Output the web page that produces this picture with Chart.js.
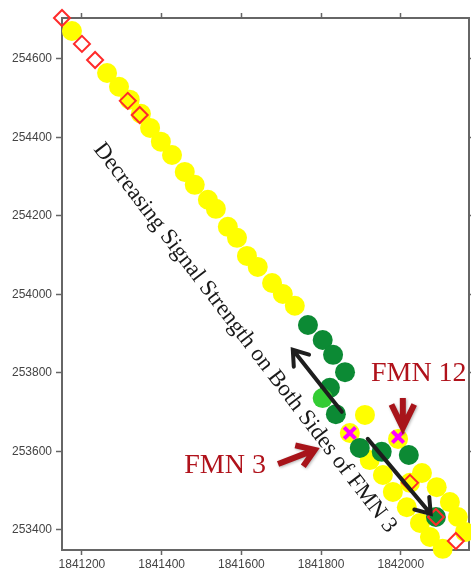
<!DOCTYPE html>
<html>
<head>
<meta charset="utf-8">
<script src="https://cdn.jsdelivr.net/npm/chart.js@4/dist/chart.umd.min.js"></script>
<style>
  html, body { margin: 0; padding: 0; background: #fff; }
  canvas { display: block; }
</style>
</head>
<body>
<canvas id="trackChart" width="471" height="575"></canvas>
<script>
// axis ranges and tick labels
const xTicks = [1841200, 1841400, 1841600, 1841800, 1842000];
const yTicks = [253400, 253600, 253800, 254000, 254200, 254400, 254600];
const xRange = [1841150, 1842171];
const yRange = [253349, 254704];

// yellow readings along the track
const yellowX = [1841175, 1841263, 1841293, 1841320, 1841348, 1841371, 1841398, 1841426, 1841458, 1841483,
                 1841516, 1841536, 1841566, 1841589, 1841614, 1841641, 1841677, 1841704, 1841734,
                 1841910, 1841872, 1841993, 1841922, 1841955, 1841980, 1842015, 1842048, 1842073, 1842105,
                 1842053, 1842090, 1842123, 1842143, 1842161, 1842023];
const yellowY = [254671, 254564, 254529, 254496, 254460, 254424, 254389, 254355, 254312, 254279,
                 254241, 254218, 254172, 254144, 254098, 254070, 254029, 254001, 253971,
                 253693, 253647, 253632, 253578, 253540, 253497, 253458, 253418, 253382, 253352,
                 253545, 253509, 253471, 253433, 253395, 253520];

// green readings
const greenX = [1841767, 1841804, 1841830, 1841860, 1841822, 1841837, 1841897, 1841952, 1842020, 1842088];
const greenY = [253922, 253884, 253846, 253802, 253762, 253695, 253609, 253599, 253591, 253433];
const lightGreenX = [1841804];
const lightGreenY = [253736];

// red diamonds
const diamondX = [1841150, 1841200, 1841233, 1841315, 1841345, 1842023, 1842088, 1842138];
const diamondY = [254704, 254638, 254597, 254493, 254457, 253520, 253433, 253372];

// FMN locations (magenta crosses)
const fmnX = [1841872, 1841993];
const fmnY = [253647, 253637];

function toPoints(xs, ys) {
    return xs.map(function (x, i) { return { x: x, y: ys[i] }; });
}

// annotation anchors, in data units
const blackArrows = [
    { from: [1841852, 253701], to: [1841729, 253859] },
    { from: [1841917, 253632], to: [1842075, 253441] }
];
const redArrows = [
    { from: [1842005, 253736], to: [1842005, 253660], head: 26, angle: 26 },
    { from: [1841692, 253568], to: [1841784, 253604], head: 20, angle: 34 }
];

function drawArrow(ctx, x1, y1, x2, y2, head, angleDeg) {
    const a = Math.atan2(y2 - y1, x2 - x1);
    const s = angleDeg * Math.PI / 180;
    ctx.beginPath();
    ctx.moveTo(x1, y1);
    ctx.lineTo(x2, y2);
    ctx.moveTo(x2 - head * Math.cos(a - s), y2 - head * Math.sin(a - s));
    ctx.lineTo(x2, y2);
    ctx.lineTo(x2 - head * Math.cos(a + s), y2 - head * Math.sin(a + s));
    ctx.stroke();
}

const annotations = {
    id: 'annotations',
    afterDatasetsDraw: function (chart) {
        const ctx = chart.ctx;
        const sx = chart.scales.x, sy = chart.scales.y;
        ctx.save();
        ctx.lineCap = 'round';
        ctx.lineJoin = 'miter';

        ctx.strokeStyle = '#1e1e1e';
        ctx.lineWidth = 4;
        blackArrows.forEach(function (a) {
            drawArrow(ctx, sx.getPixelForValue(a.from[0]), sy.getPixelForValue(a.from[1]),
                sx.getPixelForValue(a.to[0]), sy.getPixelForValue(a.to[1]), 17, 35);
        });

        // rotated caption
        ctx.save();
        ctx.translate(sx.getPixelForValue(1841609), sy.getPixelForValue(253889));
        ctx.rotate(52.6 * Math.PI / 180);
        ctx.fillStyle = '#1a1a1a';
        ctx.font = '23px "Liberation Serif", "Times New Roman", serif';
        ctx.textAlign = 'center';
        ctx.textBaseline = 'middle';
        ctx.fillText('Decreasing Signal Strength on Both Sides of FMN 3', 0, 0);
        ctx.restore();

        ctx.fillStyle = '#b0121b';
        ctx.font = '28px "Liberation Serif", "Times New Roman", serif';
        ctx.textAlign = 'center';
        ctx.textBaseline = 'middle';
        ctx.fillText('FMN 12', sx.getPixelForValue(1842045), sy.getPixelForValue(253797));
        ctx.fillText('FMN 3', sx.getPixelForValue(1841559), sy.getPixelForValue(253563));

        ctx.strokeStyle = '#a8141a';
        ctx.lineWidth = 6;
        ctx.lineCap = 'butt';
        ctx.shadowColor = 'rgba(0,0,0,0.3)';
        ctx.shadowBlur = 3;
        ctx.shadowOffsetX = 1;
        ctx.shadowOffsetY = 1;
        redArrows.forEach(function (a) {
            drawArrow(ctx, sx.getPixelForValue(a.from[0]), sy.getPixelForValue(a.from[1]),
                sx.getPixelForValue(a.to[0]), sy.getPixelForValue(a.to[1]), a.head, a.angle);
        });
        ctx.restore();
    }
};

const tickFont = { family: '"Liberation Sans", Arial, sans-serif', size: 12 };
const axisGrid = { drawOnChartArea: false, color: '#666', tickLength: 5, tickWidth: 1.5 };
const axisBorder = { display: true, color: '#666', width: 2 };

// fixed box sizes so the plot area sits where the original one does
function fixHeight(h) {
    return function (s) { s.height = h; s.paddingLeft = 0; s.paddingRight = 0; };
}
function fixWidth(w) {
    return function (s) { s.width = w; s.paddingTop = 0; s.paddingBottom = 0; };
}

const ctx = document.getElementById('trackChart').getContext('2d');
const trackChart = new Chart(ctx, {
    type: 'scatter',
    data: {
        datasets: [{
            label: 'Yellow',
            data: toPoints(yellowX, yellowY),
            pointStyle: 'circle',
            pointRadius: 10,
            backgroundColor: '#ffff00',
            borderColor: '#ffff00',
            borderWidth: 0,
            order: 5
        }, {
            label: 'Green',
            data: toPoints(greenX, greenY),
            pointStyle: 'circle',
            pointRadius: 10,
            backgroundColor: '#0c8a34',
            borderColor: '#0c8a34',
            borderWidth: 0,
            order: 4
        }, {
            label: 'Light green',
            data: toPoints(lightGreenX, lightGreenY),
            pointStyle: 'circle',
            pointRadius: 10,
            backgroundColor: '#33cc33',
            borderColor: '#33cc33',
            borderWidth: 0,
            order: 3
        }, {
            label: 'Diamond',
            data: toPoints(diamondX, diamondY),
            pointStyle: 'rectRot',
            pointRadius: 8,
            backgroundColor: 'rgba(0,0,0,0)',
            borderColor: '#ff2a2a',
            borderWidth: 2,
            order: 2
        }, {
            label: 'FMN',
            data: toPoints(fmnX, fmnY),
            pointStyle: 'crossRot',
            pointRadius: 8,
            borderColor: '#ff00ff',
            borderWidth: 4,
            order: 1
        }]
    },
    options: {
        responsive: false,
        animation: false,
        events: [],
        clip: false,
        layout: { padding: 0, autoPadding: false },
        scales: {
            x: {
                type: 'linear',
                position: 'bottom',
                min: xRange[0],
                max: xRange[1],
                afterBuildTicks: function (s) { s.ticks = xTicks.map(function (v) { return { value: v }; }); },
                afterFit: fixHeight(25),
                ticks: { color: '#444', font: tickFont, padding: 2, maxRotation: 0, callback: function (v) { return String(v); } },
                grid: axisGrid,
                border: axisBorder
            },
            x2: {
                type: 'linear',
                position: 'top',
                min: xRange[0],
                max: xRange[1],
                afterBuildTicks: function (s) { s.ticks = xTicks.map(function (v) { return { value: v }; }); },
                afterFit: fixHeight(18),
                ticks: { display: false },
                grid: axisGrid,
                border: axisBorder
            },
            y: {
                type: 'linear',
                position: 'left',
                min: yRange[0],
                max: yRange[1],
                afterBuildTicks: function (s) { s.ticks = yTicks.map(function (v) { return { value: v }; }); },
                afterFit: fixWidth(62),
                ticks: { color: '#444', font: tickFont, padding: 4, callback: function (v) { return String(v); } },
                grid: Object.assign({}, axisGrid, { tickLength: 6 }),
                border: axisBorder
            },
            y2: {
                type: 'linear',
                position: 'right',
                min: yRange[0],
                max: yRange[1],
                afterBuildTicks: function (s) { s.ticks = yTicks.map(function (v) { return { value: v }; }); },
                afterFit: fixWidth(2),
                ticks: { display: false },
                grid: axisGrid,
                border: axisBorder
            }
        },
        plugins: {
            legend: { display: false },
            tooltip: { enabled: false }
        }
    },
    plugins: [annotations]
});
</script>
</body>
</html>
